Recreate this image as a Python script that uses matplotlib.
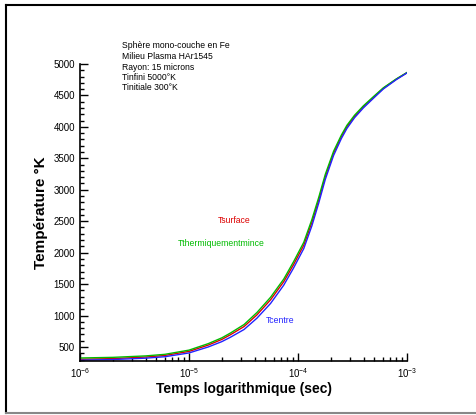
import matplotlib.pyplot as plt
from matplotlib.lines import Line2D
from matplotlib.ticker import FixedLocator, MultipleLocator, FixedFormatter

# temps (s) et temperatures (K)
temps = [1e-6, 2e-6, 4e-6, 6e-6, 1e-5, 1.5e-5, 2e-5, 2.4e-5, 3.2e-5, 4.2e-5,
         5.6e-5, 7.4e-5, 9.1e-5, 1.13e-4, 1.34e-4, 1.55e-4, 1.78e-4, 2.12e-4,
         2.5e-4, 2.81e-4, 3.3e-4, 3.98e-4, 5e-4, 6.07e-4, 8e-4, 1e-3]
t_surface = [305, 315, 340, 365, 430, 530, 620, 695, 825, 1011, 1250, 1539,
             1810, 2120, 2480, 2838, 3208, 3580, 3846, 4003, 4165, 4321,
             4480, 4614, 4760, 4862]
t_mince = [325, 335, 358, 383, 450, 553, 645, 722, 857, 1048, 1290, 1580,
           1855, 2165, 2525, 2880, 3245, 3612, 3870, 4025, 4185, 4335,
           4492, 4622, 4764, 4865]
t_centre = [290, 300, 322, 345, 405, 500, 585, 655, 778, 958, 1192, 1483,
            1755, 2065, 2425, 2790, 3165, 3545, 3815, 3975, 4145, 4302,
            4466, 4603, 4753, 4858]

xticks = [1e-6, 1e-5, 1e-4, 1e-3]
xtick_labels = ["$10^{-6}$", "$10^{-5}$", "$10^{-4}$", "$10^{-3}$"]

infos = ["Sphère mono-couche en Fe", "Milieu Plasma HAr1545",
         "Rayon: 15 microns", "Tinfini 5000°K", "Tinitiale 300°K"]

plt.rcParams['font.family'] = ['Liberation Sans', 'DejaVu Sans']
plt.rcParams['mathtext.fontset'] = 'custom'
plt.rcParams['mathtext.rm'] = 'Liberation Sans'
plt.rcParams['mathtext.it'] = 'Liberation Sans'

W, H = 476, 415
fig = plt.figure(figsize=(4.76, 4.15), dpi=100)
ax = fig.add_axes([80 / W, 1 - 361 / H, 327 / W, 297 / H])

ax.plot(temps, t_surface, color="#dd0000", lw=1.0)
ax.plot(temps, t_mince, color="#00bb00", lw=1.0)
ax.plot(temps, t_centre, color="#2222ff", lw=1.0)

ax.set_xscale("log")
ax.set_xlim(1e-6, 1e-3)
ax.set_ylim(277, 5000)
ax.xaxis.set_major_locator(FixedLocator(xticks))
ax.xaxis.set_major_formatter(FixedFormatter(xtick_labels))
ax.yaxis.set_major_locator(MultipleLocator(500))
ax.yaxis.set_minor_locator(MultipleLocator(100))
ax.tick_params(which="both", direction="in", labelsize=7, width=1)
ax.tick_params(which="major", length=6)
ax.tick_params(which="minor", length=3)
ax.spines["top"].set_visible(False)
ax.spines["right"].set_visible(False)
ax.spines["left"].set_linewidth(1.2)
ax.spines["bottom"].set_linewidth(1.2)

ax.set_xlabel("Temps logarithmique (sec)", fontsize=10, fontweight="bold", labelpad=2)
ax.set_ylabel("Température °K", fontsize=11, fontweight="bold", labelpad=4)

for i, s in enumerate(infos):
    fig.text(122 / W, 1 - (46 + i * 10.5) / H, s, fontsize=6.2, va="center")

fig.text(218 / W, 1 - 220 / H, "Tsurface", color="#dd0000", fontsize=6.2, va="center")
fig.text(178 / W, 1 - 243 / H, "Tthermiquementmince", color="#00bb00", fontsize=6.2, va="center")
fig.text(266 / W, 1 - 320 / H, "Tcentre", color="#2222ff", fontsize=6.2, va="center")

# cadre exterieur
fig.add_artist(Line2D([6 / W, 1], [1 - 5 / H, 1 - 5 / H], color="black", lw=1.5))
fig.add_artist(Line2D([6 / W, 6 / W], [1 - 5 / H, 1 - 413 / H], color="black", lw=1.5))
fig.add_artist(Line2D([6 / W, 1], [1 - 413 / H, 1 - 413 / H], color="#888888", lw=1.5))

fig.savefig("out.png", dpi=100)
